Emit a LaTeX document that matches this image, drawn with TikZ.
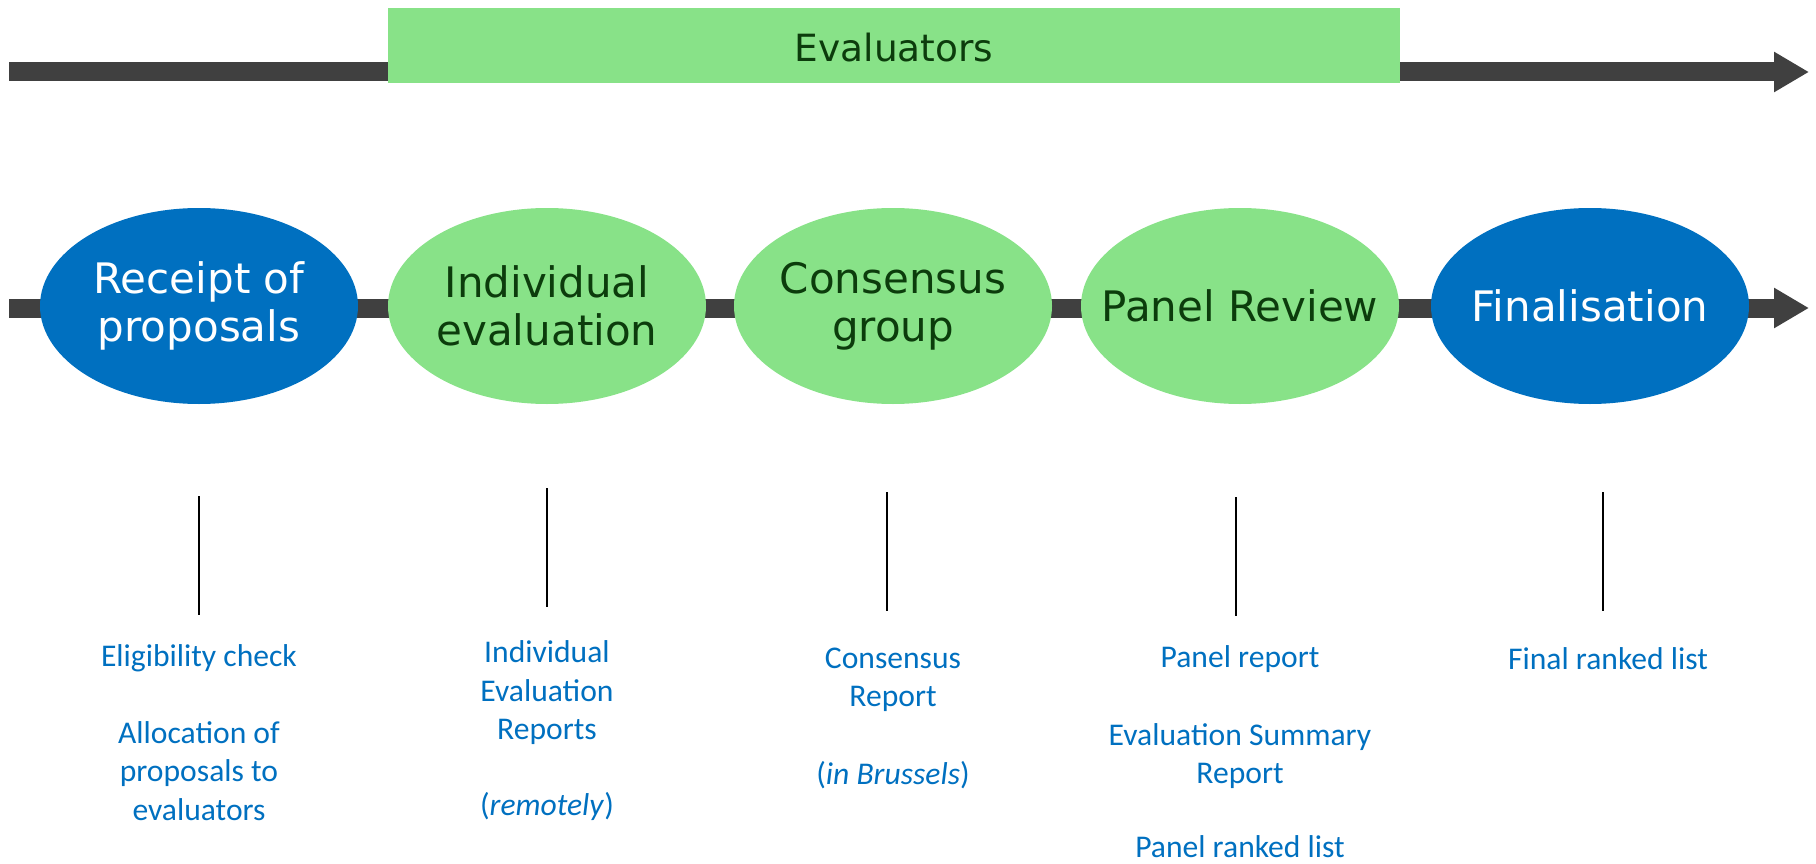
\documentclass[tikz,border=0pt]{standalone}
\usepackage{fontspec}
\setmainfont{Carlito}
\newfontfamily\vfont{DejaVu Sans}
\usetikzlibrary{arrows.meta,shapes.geometric}
\definecolor{cblue}{HTML}{0070C0}
\definecolor{cgreen}{HTML}{88E288}
\definecolor{cbar}{HTML}{404040}
\definecolor{cdark}{RGB}{12,60,12}
\tikzset{
  bar/.style={draw=cbar, line width=19pt, -{Triangle[width=38pt,length=35pt]}},
  phase/.style={ellipse, minimum width=318pt, minimum height=196pt, inner sep=0pt},
  bluephase/.style={phase, fill=cblue},
  greenphase/.style={phase, fill=cgreen},
  phasetext/.style={align=center, inner sep=0pt, font=\vfont\fontsize{42}{48}\selectfont},
  whitetext/.style={phasetext, text=white},
  darktext/.style={phasetext, text=cdark},
  outtext/.style={text=cblue, align=center, font=\fontsize{31.6}{38.5}\selectfont, inner sep=0pt},
  tick/.style={draw=black, line width=2pt}
}
\begin{document}
\begin{tikzpicture}[x=1pt,y=-1pt]
\useasboundingbox (0,0) rectangle (1816,864);
% top timeline
\coordinate (t0) at (9,72);
\coordinate (t1) at (1809,72);
\draw[bar] (t0) -- (t1);
\node[fill=cgreen, minimum width=1012pt, minimum height=75pt, inner sep=0pt, anchor=north west] (ev) at (388,8) {};
\node[text=cdark, font=\vfont\fontsize{37.5}{42}\selectfont] (evt) at (894,48) {Evaluators};
% middle timeline
\coordinate (m0) at (9,308);
\coordinate (m1) at (1809,308);
\draw[bar] (m0) -- (m1);
\node[bluephase] (p1) at (199,306) {};
\node[greenphase] (p2) at (547,306) {};
\node[greenphase] (p3) at (893,306) {};
\node[greenphase] (p4) at (1240,306) {};
\node[bluephase] (p5) at (1590,306) {};
\node[whitetext] (p1t) at (p1) {Receipt of\\proposals};
\node[darktext] (p2t) at (p2) {Individual\\evaluation};
\node[darktext] (p3t) at (p3) {Consensus\\group};
\node[darktext] (p4t) at (p4) {Panel Review};
\node[whitetext] (p5t) at (p5) {Finalisation};
% ticks
\coordinate (a1) at (199,496); \coordinate (b1) at (199,615);
\coordinate (a2) at (547,488); \coordinate (b2) at (547,607);
\coordinate (a3) at (887,492); \coordinate (b3) at (887,611);
\coordinate (a4) at (1236,497); \coordinate (b4) at (1236,616);
\coordinate (a5) at (1603,492); \coordinate (b5) at (1603,611);
\foreach \i in {1,...,5} \draw[tick] (a\i) -- (b\i);
% outputs
\node[outtext] (o1a) at (199,658) {Eligibility check};
\node[outtext] (o1b) at (199,771) {Allocation of\\proposals to\\evaluators};
\node[outtext] (o2a) at (547,693) {Individual\\Evaluation\\Reports};
\node[outtext] (o2b) at (547,806) {(\textit{remotely})};
\node[outtext] (o3a) at (893,680) {Consensus\\Report};
\node[outtext] (o3b) at (893,775) {(\textit{in Brussels})};
\node[outtext] (o4a) at (1240,659) {Panel report};
\node[outtext] (o4b) at (1240,756) {Evaluation Summary\\Report};
\node[outtext] (o4c) at (1240,847) {Panel ranked list};
\node[outtext] (o5a) at (1608,659) {Final ranked list};
\end{tikzpicture}
\end{document}
